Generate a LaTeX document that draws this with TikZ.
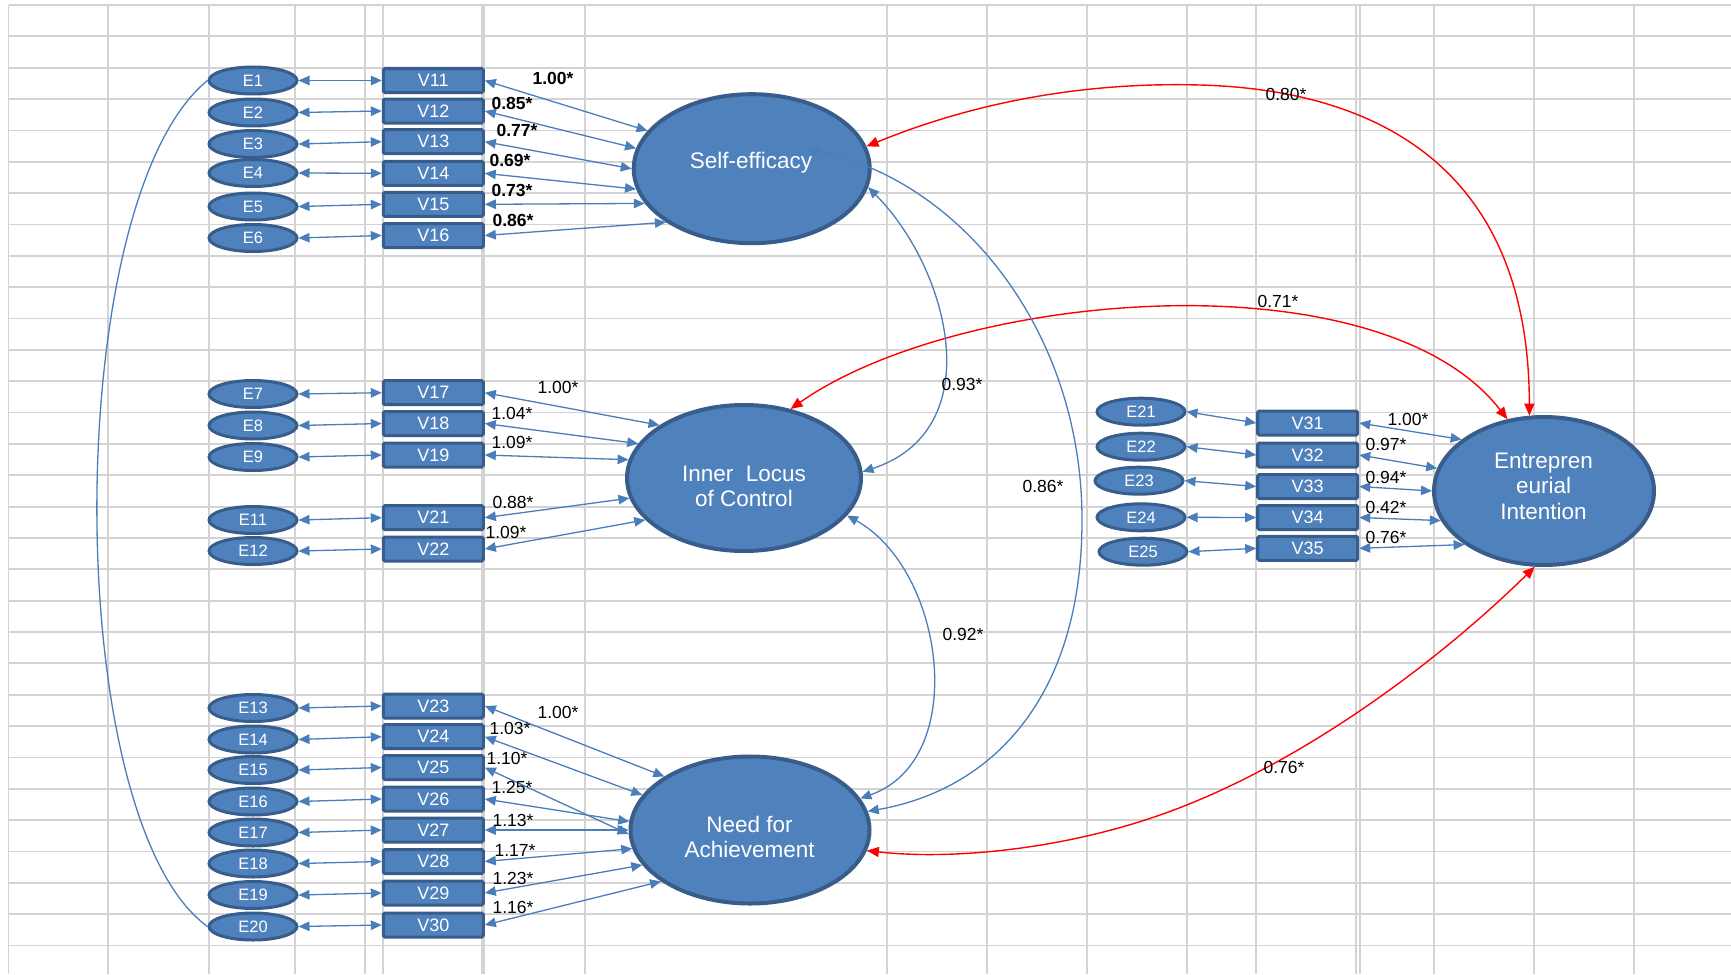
\documentclass[tikz,border=0pt]{standalone}
\usepackage{fontspec}
\setmainfont{Liberation Sans}
\usetikzlibrary{shapes.geometric,arrows.meta}
\definecolor{obox}{HTML}{4F81BD}
\definecolor{oedge}{HTML}{385D8A}
\definecolor{lblue}{HTML}{4A7EBB}
\definecolor{gridc}{HTML}{D3D3D3}
\newcommand\fsz[2]{\fontsize{#1}{#2}\selectfont}
\begin{document}
\begin{tikzpicture}[x=1pt,y=-1pt,
 err/.style={ellipse, fill=obox, draw=oedge, line width=3pt, minimum width=88pt, minimum height=27pt, inner sep=0pt, text=white, font=\fsz{16.5}{17}},
 obs/.style={rectangle, rounded corners=1.5pt, fill=obox, draw=oedge, line width=3pt, minimum width=100pt, minimum height=24pt, inner sep=0pt, text=white, font=\fsz{18}{18}},
 lat/.style={ellipse, fill=obox, draw=oedge, line width=4pt, inner sep=0pt},
 lattext/.style={text=white, font=\fsz{22.5}{25.5}, align=center, inner sep=0pt},
 link/.style={draw=lblue, line width=1.3pt, {Triangle[length=11pt,width=9.5pt]}-{Triangle[length=11pt,width=9.5pt]}},
 rlink/.style={draw=red, line width=1.4pt, {Triangle[length=12pt,width=10pt]}-{Triangle[length=12pt,width=10pt]}},
 plain/.style={draw=lblue, line width=1.3pt},
 coef/.style={font=\fsz{17.5}{18}, inner sep=0pt, text=black},
 bcoef/.style={font=\fsz{17.5}{18}\bfseries, inner sep=0pt, text=black},
 gline/.style={draw=gridc, line width=1.8pt}
]
\useasboundingbox (0,0) rectangle (1731,974);
\fill[white] (0,0) rectangle (1731,974);
% grid
\foreach \x in {108,209,295,365,383,585,887,987,1087,1187,1256,1356,1360,1434,1534,1634}
  \draw[gline] (\x,5) -- (\x,974);
\draw[gline, line width=3.5pt] (483,5) -- (483,974);
\draw[gline] (8.5,5) -- (8.5,974);
\foreach \k in {0,...,30}
  \draw[gline] (8.5,{5+31.35*\k}) -- (1731,{5+31.35*\k});

% error terms
\foreach \n/\y in {1/80.5,2/112.5,3/144,4/173,5/206.5,6/238,7/394,8/425.5,9/457,11/520,12/551,13/708,14/739.5,15/770,16/801.5,17/832.5,18/863.5,19/895,20/926.5}
  \node[err] (E\n) at (253,\y) {E\n};
\foreach \n/\x/\y in {21/1141/411.7,22/1141/446.7,23/1139/480.7,24/1141/517.3,25/1143/551.7}
  \node[err] (E\n) at (\x,\y) {E\n};
% observed
\foreach \n/\y in {11/80.5,12/111,13/141.7,14/173.3,15/204.3,16/235.5,17/392.7,18/423.5,19/455,21/517.7,22/549,23/706,24/736.7,25/767.5,26/799,27/830,28/861.5,29/893,30/925}
  \node[obs] (V\n) at (433.3,\y) {V\n};
\foreach \n/\y in {31/423,32/455,33/486.5,34/517.5,35/548.3}
  \node[obs] (V\n) at (1307.7,\y) {V\n};
% latent
\node[lat, minimum width=236pt, minimum height=149pt] (SE) at (751.7,168.7) {};
\node[lat, minimum width=234pt, minimum height=146pt] (ILC) at (744,478) {};
\node[lat, minimum width=239pt, minimum height=147pt] (NA) at (750,830) {};
\node[lat, minimum width=220pt, minimum height=148pt] (EI) at (1544,491) {};
\node[lattext] (SEt) at (751,162.5) {Self-efficacy};
\node[lattext] (ILCt) at (744,486.5) {Inner~ Locus\\of Control};
\node[lattext] (NAt) at (749.6,837) {Need for\\Achievement};
\node[lattext] (EIt) at (1543.5,486) {Entrepren\\eurial\\Intention};

% error links
\foreach \e/\v in {1/11,2/12,3/13,4/14,5/15,6/16,7/17,8/18,9/19,11/21,12/22,13/23,14/24,15/25,16/26,17/27,18/28,19/29,20/30,21/31,22/32,23/33,24/34,25/35}
  \draw[link] (E\e.east) -- (V\v.west);
% loadings
\foreach \v/\a in {11/160,12/170,13/180,14/190,15/198,16/212}
  \draw[link] (V\v.east) -- (SE.\a);
\foreach \v/\a in {17/148,18/162,19/171,21/190,22/203}
  \draw[link] (V\v.east) -- (ILC.\a);
\foreach \v/\a in {23/148,24/162,25/182,26/176,27/180,28/189,29/198,30/210}
  \draw[link] (V\v.east) -- (NA.\a);
\foreach \v/\a in {31/148,32/168,33/180,34/196,35/214}
  \draw[link] (V\v.east) -- (EI.\a);

% structural
\coordinate (se86) at (807,149);
\draw[rlink] (SE.11) .. controls (980,100) and (1090,82) .. (1200,85) .. controls (1380,90) and (1529,170) .. (EI.101);
\draw[rlink] (ILC.56) .. controls (960,290) and (1380,255) .. (EI.117);
\draw[rlink] (NA.350) .. controls (950,860) and (1060,850) .. (1160,815) .. controls (1300,766) and (1440,660) .. (EI.263);
\draw[link] (SE.351) .. controls (950,270) and (990,430) .. (ILC.3);
\draw[link] (ILC.340) .. controls (945,570) and (970,760) .. (NA.16);
\draw[link] (se86) .. controls (960,180) and (1082,330) .. (1082,520) .. controls (1082,700) and (990,790) .. (NA.9);
\draw[plain] (E1.west) .. controls (60,200) and (60,820) .. (E20.west);

% coefficient labels
\node[bcoef] (c1) at (553,78) {1.00*};
\node[bcoef] (c2) at (512,103) {0.85*};
\node[bcoef] (c3) at (517,130) {0.77*};
\node[bcoef] (c4) at (510,160) {0.69*};
\node[bcoef] (c5) at (512,190) {0.73*};
\node[bcoef] (c6) at (513,220) {0.86*};
\node[coef] (c7) at (558,387) {1.00*};
\node[coef] (c8) at (512,413) {1.04*};
\node[coef] (c9) at (512,442) {1.09*};
\node[coef] (c10) at (513,502) {0.88*};
\node[coef] (c11) at (506,532) {1.09*};
\node[coef] (c12) at (558,712) {1.00*};
\node[coef] (c13) at (510,728) {1.03*};
\node[coef] (c14) at (507,758) {1.10*};
\node[coef] (c15) at (512,787) {1.25*};
\node[coef] (c16) at (513,820) {1.13*};
\node[coef] (c17) at (515,850) {1.17*};
\node[coef] (c18) at (513,878) {1.23*};
\node[coef] (c19) at (513,907) {1.16*};
\node[coef] (c20) at (1408,419) {1.00*};
\node[coef] (c21) at (1386,444) {0.97*};
\node[coef] (c22) at (1386,477) {0.94*};
\node[coef] (c23) at (1386,507) {0.42*};
\node[coef] (c24) at (1386,537) {0.76*};
\node[coef] (s1) at (1286,94) {0.80*};
\node[coef] (s2) at (1278,301) {0.71*};
\node[coef] (s3) at (962,384) {0.93*};
\node[coef] (s4) at (1043,486) {0.86*};
\node[coef] (s5) at (963,634) {0.92*};
\node[coef] (s6) at (1284,767) {0.76*};
\end{tikzpicture}
\end{document}
